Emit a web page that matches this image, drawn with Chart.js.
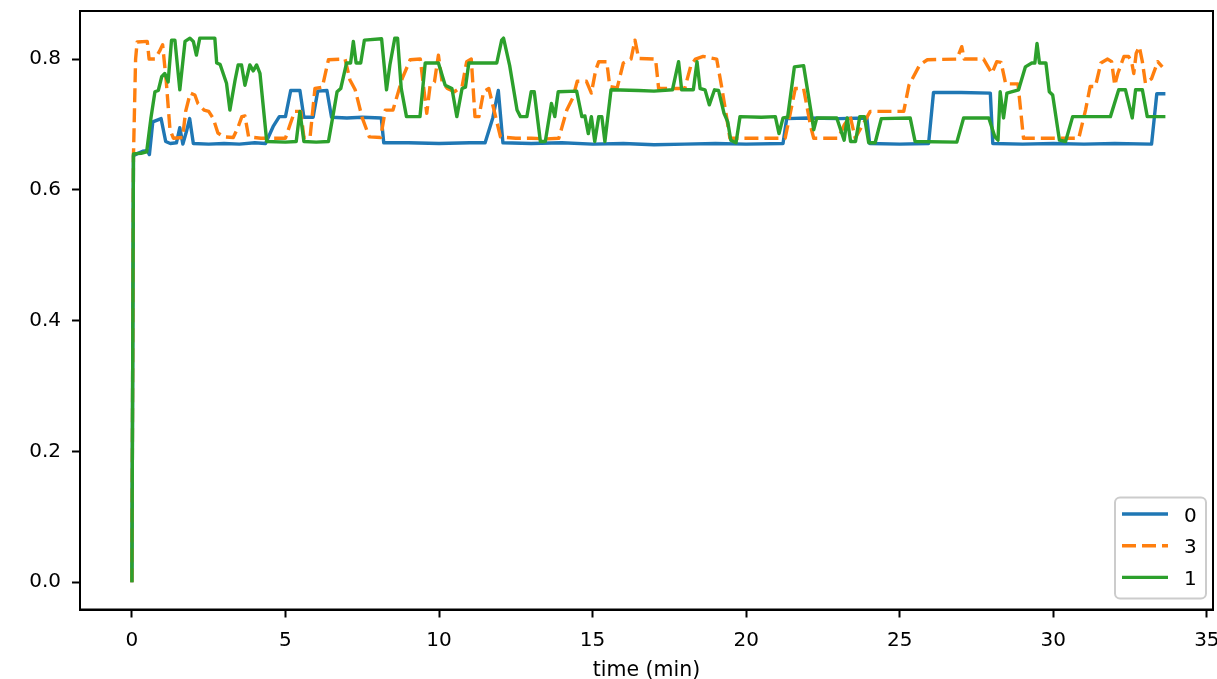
<!DOCTYPE html>
<html>
<head>
<meta charset="utf-8">
<script src="https://cdn.jsdelivr.net/npm/chart.js@4"></script>
<style>
  html, body { margin: 0; padding: 0; background: #fff; }
  #wrap { width: 1217px; height: 679px; position: relative; }
</style>
</head>
<body>
<div id="wrap"><canvas id="chart"></canvas></div>
<script>
// series "0"
const t0 = [0, 0.05, 0.2, 0.35, 0.5, 0.57, 0.68, 0.95, 1.1, 1.25, 1.45, 1.56, 1.66, 1.78, 1.88, 2.0, 2.5, 3.0, 3.5, 4.0, 4.35,
  4.6, 4.8, 5.0, 5.17, 5.47, 5.6, 5.9, 6.05, 6.35, 6.5, 7.0, 7.5, 8.12, 8.2, 9, 10, 11, 11.5, 11.75, 11.93, 12.08,
  13, 14, 15, 16, 17, 18, 19, 20, 21.2, 21.32, 22, 23, 23.93, 24.02, 25, 25.94, 26.1, 27, 27.95, 28.03,
  29, 30, 31, 32, 33.2, 33.37, 33.65];
const v0 = [0, 0.652, 0.656, 0.659, 0.66, 0.654, 0.704, 0.709, 0.674, 0.671, 0.672, 0.695, 0.670, 0.69, 0.709, 0.671, 0.670, 0.671, 0.670, 0.672, 0.671,
  0.697, 0.712, 0.712, 0.752, 0.752, 0.711, 0.711, 0.751, 0.752, 0.711, 0.710, 0.711, 0.710, 0.672, 0.672, 0.671, 0.672, 0.672, 0.71, 0.752, 0.672,
  0.671, 0.672, 0.670, 0.671, 0.669, 0.670, 0.671, 0.670, 0.671, 0.709, 0.71, 0.709, 0.71, 0.671, 0.670, 0.671, 0.749, 0.749, 0.748, 0.671,
  0.670, 0.671, 0.670, 0.671, 0.670, 0.747, 0.747];

// series "3"
const t3 = [0, 0.05, 0.12, 0.17, 0.5, 0.56, 0.75, 0.9, 1.0, 1.12, 1.24, 1.35, 1.65, 1.75, 1.9, 2.05, 2.15, 2.35, 2.5, 2.65, 2.8, 3.0, 3.3,
  3.45, 3.58, 3.68, 3.8, 4.2, 4.6, 5.0, 5.15, 5.3, 5.5, 5.6, 5.8, 5.96, 6.2, 6.4, 6.94, 7.1, 7.27, 7.5, 7.73, 8.1, 8.25, 8.5,
  8.8, 9.06, 9.39, 9.6, 9.71, 9.85, 9.98, 10.1, 10.27, 10.5, 10.75, 10.9, 11.05, 11.17, 11.3, 11.45, 11.62, 11.8, 12.0, 12.5,
  13.0, 13.5, 13.9, 14.16, 14.35, 14.5, 14.8, 14.96, 15.1, 15.2, 15.46, 15.56, 15.8, 16.0, 16.25, 16.38, 16.5, 17.05, 17.15,
  18.0, 18.2, 18.35, 18.6, 19.04, 19.2, 19.36, 19.47, 20, 20.5, 21.27, 21.6, 21.87, 22.1, 22.2, 23.0, 23.2, 23.39, 23.55, 23.8,
  24.04, 25.13, 25.3, 25.65, 25.9, 26.86, 27.02, 27.1, 27.73, 28.0, 28.16, 28.3, 28.45, 28.85, 29.03, 30.0, 30.83, 31.05, 31.2,
  31.37, 31.55, 31.77, 31.9, 32.0, 32.1, 32.3, 32.45, 32.55, 32.62, 32.7, 32.8, 32.9, 33.0, 33.2, 33.4, 33.55];
const v3 = [0, 0.65, 0.80, 0.826, 0.827, 0.80, 0.80, 0.812, 0.822, 0.765, 0.692, 0.679, 0.68, 0.72, 0.748, 0.745, 0.732, 0.722, 0.72, 0.709, 0.687, 0.681, 0.68,
  0.695, 0.712, 0.713, 0.681, 0.679, 0.679, 0.679, 0.70, 0.72, 0.72, 0.68, 0.68, 0.755, 0.757, 0.799, 0.80, 0.768, 0.753, 0.71, 0.681, 0.68, 0.722, 0.722,
  0.77, 0.799, 0.80, 0.717, 0.76, 0.765, 0.806, 0.765, 0.755, 0.75, 0.758, 0.796, 0.80, 0.712, 0.712, 0.75, 0.755, 0.72, 0.681, 0.679,
  0.679, 0.678, 0.679, 0.722, 0.74, 0.766, 0.766, 0.748, 0.783, 0.796, 0.796, 0.758, 0.756, 0.794, 0.80, 0.829, 0.801, 0.80, 0.755,
  0.755, 0.79, 0.80, 0.804, 0.80, 0.758, 0.712, 0.679, 0.679, 0.679, 0.679, 0.755, 0.755, 0.697, 0.679, 0.679, 0.70, 0.712, 0.679, 0.70,
  0.72, 0.72, 0.76, 0.791, 0.799, 0.80, 0.819, 0.80, 0.80, 0.778, 0.796, 0.795, 0.762, 0.762, 0.679, 0.679, 0.679, 0.722, 0.758,
  0.758, 0.794, 0.80, 0.796, 0.76, 0.778, 0.804, 0.804, 0.796, 0.778, 0.809, 0.819, 0.796, 0.763, 0.77, 0.796, 0.788];

// series "1"
const t1 = [0, 0.05, 0.3, 0.48, 0.62, 0.75, 0.86, 0.97, 1.07, 1.18, 1.29, 1.4, 1.56, 1.73, 1.89, 2.0, 2.1, 2.21, 2.7, 2.76, 2.87,
  3.08, 3.19, 3.36, 3.46, 3.57, 3.68, 3.84, 3.95, 4.06, 4.17, 4.39, 5.0, 5.35, 5.47, 5.6, 6.0, 6.4, 6.56, 6.68, 6.8, 6.99,
  7.12, 7.21, 7.3, 7.45, 7.57, 8.13, 8.29, 8.4, 8.56, 8.65, 8.77, 8.94, 9.38, 9.55, 9.98, 10.2, 10.42, 10.58, 10.75, 10.86,
  10.97, 11.88, 12.04, 12.1, 12.3, 12.54, 12.65, 12.86, 13.0, 13.1, 13.3, 13.46, 13.66, 13.77, 13.88, 14.48, 14.65, 14.75,
  14.86, 14.96, 15.07, 15.2, 15.3, 15.4, 15.6, 16.5, 17.0, 17.6, 17.8, 17.9, 18.28, 18.4, 18.5, 18.66, 18.8, 18.97, 19.1,
  19.28, 19.4, 19.5, 19.67, 19.8, 20.5, 20.95, 21.07, 21.2, 21.35, 21.57, 21.87, 22.12, 22.2, 22.3, 22.95, 23.19, 23.29,
  23.4, 23.56, 23.7, 23.85, 23.99, 24.2, 24.4, 25.34, 25.5, 26.86, 27.08, 27.9, 28.1, 28.2, 28.27, 28.38, 28.49, 28.87,
  29.09, 29.3, 29.4, 29.47, 29.55, 29.76, 29.87, 29.98, 30.2, 30.4, 30.63, 31.86, 32.13, 32.35, 32.57, 32.68, 32.9, 33.06, 33.65];
const v1 = [0, 0.655, 0.656, 0.658, 0.71, 0.75, 0.752, 0.773, 0.778, 0.765, 0.829, 0.829, 0.753, 0.827, 0.832, 0.827, 0.806, 0.832, 0.832, 0.794, 0.792,
  0.763, 0.722, 0.768, 0.791, 0.791, 0.76, 0.791, 0.782, 0.791, 0.778, 0.674, 0.673, 0.674, 0.72, 0.674, 0.673, 0.674, 0.717, 0.75, 0.755, 0.794,
  0.794, 0.827, 0.794, 0.794, 0.829, 0.831, 0.753, 0.791, 0.832, 0.832, 0.755, 0.712, 0.712, 0.794, 0.794, 0.76, 0.755, 0.712, 0.755, 0.757,
  0.794, 0.794, 0.829, 0.832, 0.79, 0.722, 0.712, 0.712, 0.75, 0.75, 0.674, 0.674, 0.732, 0.712, 0.75, 0.751, 0.712, 0.713,
  0.686, 0.712, 0.674, 0.712, 0.712, 0.674, 0.753, 0.752, 0.751, 0.753, 0.796, 0.753, 0.753, 0.796, 0.755, 0.753, 0.73, 0.753, 0.752,
  0.717, 0.704, 0.676, 0.672, 0.712, 0.711, 0.712, 0.686, 0.71, 0.711, 0.788, 0.79, 0.717, 0.692, 0.71, 0.71, 0.676, 0.71,
  0.674, 0.674, 0.712, 0.712, 0.672, 0.672, 0.709, 0.71, 0.674, 0.673, 0.71, 0.71, 0.681, 0.676, 0.75, 0.71, 0.748, 0.753,
  0.788, 0.794, 0.794, 0.824, 0.794, 0.794, 0.75, 0.745, 0.676, 0.674, 0.712, 0.712, 0.753, 0.753, 0.71, 0.753, 0.753, 0.712, 0.712];

const seriesNames = ['0', '3', '1'];
const xTicks = [0, 5, 10, 15, 20, 25, 30, 35];
const yTicks = [0.0, 0.2, 0.4, 0.6, 0.8];

function pts(t, v) {
  return t.map((x, i) => ({x: x, y: v[i]}));
}

Chart.defaults.font.family = '"DejaVu Sans", sans-serif';
Chart.defaults.font.size = 20;
Chart.defaults.color = '#000';

// matplotlib style legend box in the lower right corner
const boxLegend = {
  id: 'boxLegend',
  afterDraw(chart) {
    const {ctx, chartArea} = chart;
    const w = 91, h = 101;
    const x0 = chartArea.right - 7 - w, y0 = chartArea.bottom - 11 - h;
    ctx.save();
    ctx.beginPath();
    ctx.roundRect(x0, y0, w, h, 5);
    ctx.fillStyle = 'rgba(255,255,255,0.8)';
    ctx.fill();
    ctx.strokeStyle = '#cccccc';
    ctx.lineWidth = 2;
    ctx.stroke();
    chart.data.datasets.forEach((ds, i) => {
      const y = y0 + 16.5 + i * 31.7;
      ctx.beginPath();
      ctx.setLineDash(ds.borderDash || []);
      ctx.strokeStyle = ds.borderColor;
      ctx.lineWidth = ds.borderWidth;
      ctx.moveTo(x0 + 7, y);
      ctx.lineTo(x0 + 53, y);
      ctx.stroke();
      ctx.setLineDash([]);
      ctx.fillStyle = '#000';
      ctx.font = '20px "DejaVu Sans"';
      ctx.textBaseline = 'alphabetic';
      ctx.fillText(ds.label, x0 + 69, y + 7.5);
    });
    ctx.restore();
  }
};

// top and right spines
const frame = {
  id: 'frame',
  afterDatasetsDraw(chart) {
    const {ctx, chartArea} = chart;
    ctx.save();
    ctx.strokeStyle = '#000';
    ctx.lineWidth = 2;
    ctx.strokeRect(chartArea.left, chartArea.top, chartArea.right - chartArea.left, chartArea.bottom - chartArea.top);
    ctx.restore();
  }
};

const ctx = document.getElementById('chart');
new Chart(ctx, {
  type: 'line',
  data: {
    datasets: [
      {label: seriesNames[0], data: pts(t0, v0), borderColor: '#1f77b4', borderWidth: 3.4, order: 2},
      {label: seriesNames[1], data: pts(t3, v3), borderColor: '#ff7f0e', borderWidth: 3.4, borderDash: [14, 6], order: 1},
      {label: seriesNames[2], data: pts(t1, v1), borderColor: '#2ca02c', borderWidth: 3.4, order: 0}
    ]
  },
  options: {
    responsive: true,
    maintainAspectRatio: false,
    animation: false,
    layout: {padding: {top: 11, right: 4, bottom: 0, left: 0}},
    elements: {
      point: {radius: 0},
      line: {tension: 0, fill: false, borderJoinStyle: 'round', borderCapStyle: 'butt'}
    },
    plugins: {legend: {display: false}, tooltip: {enabled: false}},
    scales: {
      x: {
        type: 'linear',
        min: -1.69,
        max: 35.2,
        afterBuildTicks: s => { s.ticks = xTicks.map(v => ({value: v})); },
        afterFit: s => { s.height = 69.5; s.paddingLeft = 0; s.paddingRight = 0; },
        ticks: {padding: 11, maxRotation: 0, autoSkip: false},
        grid: {drawOnChartArea: false, color: '#000', tickLength: 8, tickWidth: 2},
        border: {color: '#000', width: 2},
        title: {display: true, text: 'time (min)', font: {size: 20.5}, padding: {top: 0, bottom: -4}}
      },
      y: {
        min: -0.0416,
        max: 0.8735,
        afterBuildTicks: s => { s.ticks = yTicks.map(v => ({value: v})); },
        afterFit: s => { s.width = 80; s.paddingTop = 0; s.paddingBottom = 0; },
        ticks: {padding: 11, callback: v => v.toFixed(1)},
        grid: {drawOnChartArea: false, color: '#000', tickLength: 8, tickWidth: 2},
        border: {color: '#000', width: 2}
      }
    }
  },
  plugins: [frame, boxLegend]
});
</script>
</body>
</html>
